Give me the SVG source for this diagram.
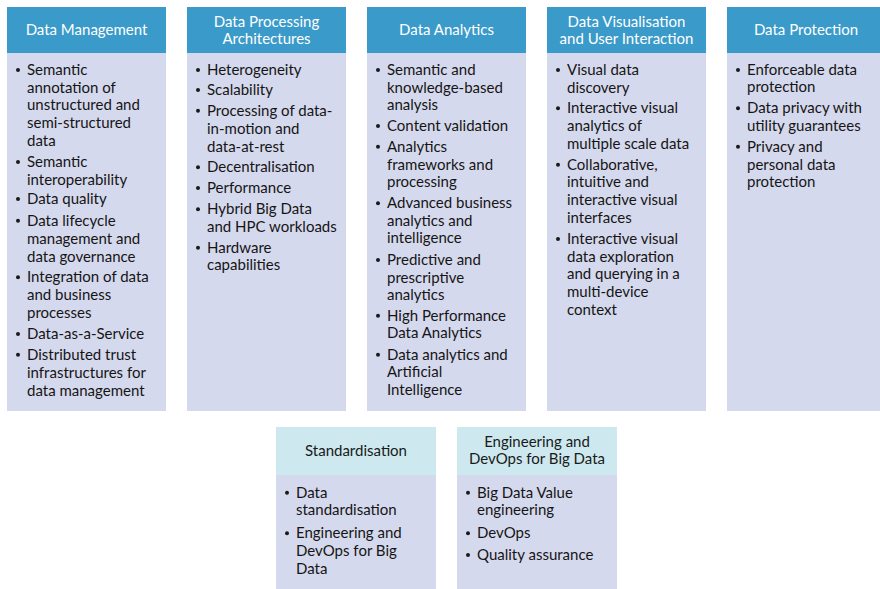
<svg xmlns="http://www.w3.org/2000/svg" width="880" height="589" viewBox="0 0 880 589">
<style>
.hd{fill:#3a9ac9}
.hd2{fill:#cde9ef}
.bd{fill:#d5d9ed}
.ht{font-family:Lato,"Open Sans",sans-serif;font-size:15px;fill:#ffffff;text-anchor:middle}
.ht2{font-family:Lato,"Open Sans",sans-serif;font-size:15px;fill:#1a1a1a;text-anchor:middle}
.t{font-family:Lato,"Open Sans",sans-serif;font-size:15px;fill:#151515}
.b{fill:#1a1a1a}
</style>
<rect width="880" height="589" fill="#ffffff"/>
<g id="connectors"></g>

<g id="data-management">
<rect class="hd" x="7" y="7" width="159" height="46"/>
<rect class="bd" x="7" y="53" width="159" height="358"/>
<text class="ht" x="86.5" y="35">Data Management</text>
<circle class="b" cx="18" cy="70" r="2"/><circle class="b" cx="18" cy="162" r="2"/><circle class="b" cx="18" cy="199" r="2"/><circle class="b" cx="18" cy="220.7" r="2"/><circle class="b" cx="18" cy="277.3" r="2"/><circle class="b" cx="18" cy="334" r="2"/><circle class="b" cx="18" cy="354.7" r="2"/>
<text class="t"><tspan x="27" y="75">Semantic</tspan><tspan x="27" y="92.5">annotation of</tspan><tspan x="27" y="110">unstructured and</tspan><tspan x="27" y="128">semi-structured</tspan><tspan x="27" y="146">data</tspan><tspan x="27" y="167">Semantic</tspan><tspan x="27" y="184.5">interoperability</tspan><tspan x="27" y="204">Data quality</tspan><tspan x="27" y="225.7">Data lifecycle</tspan><tspan x="27" y="243.7">management and</tspan><tspan x="27" y="261.7">data governance</tspan><tspan x="27" y="282.3">Integration of data</tspan><tspan x="27" y="300">and business</tspan><tspan x="27" y="317.7">processes</tspan><tspan x="27" y="339">Data-as-a-Service</tspan><tspan x="27" y="359.7">Distributed trust</tspan><tspan x="27" y="377.7">infrastructures for</tspan><tspan x="27" y="395.7">data management</tspan></text>
</g>

<g id="data-processing">
<rect class="hd" x="187" y="7" width="159" height="46"/>
<rect class="bd" x="187" y="53" width="159" height="358"/>
<text class="ht"><tspan x="266.5" y="27">Data Processing</tspan><tspan x="266.5" y="44">Architectures</tspan></text>
<circle class="b" cx="198" cy="70" r="2"/><circle class="b" cx="198" cy="90" r="2"/><circle class="b" cx="198" cy="110.7" r="2"/><circle class="b" cx="198" cy="167.3" r="2"/><circle class="b" cx="198" cy="188" r="2"/><circle class="b" cx="198" cy="209.3" r="2"/><circle class="b" cx="198" cy="247.7" r="2"/>
<text class="t"><tspan x="207" y="75">Heterogeneity</tspan><tspan x="207" y="95">Scalability</tspan><tspan x="207" y="115.7">Processing of data-</tspan><tspan x="207" y="134">in-motion and</tspan><tspan x="207" y="151.7">data-at-rest</tspan><tspan x="207" y="172.3">Decentralisation</tspan><tspan x="207" y="193">Performance</tspan><tspan x="207" y="214.3">Hybrid Big Data</tspan><tspan x="207" y="232">and HPC workloads</tspan><tspan x="207" y="252.7">Hardware</tspan><tspan x="207" y="270">capabilities</tspan></text>
</g>

<g id="data-analytics">
<rect class="hd" x="367" y="7" width="159" height="46"/>
<rect class="bd" x="367" y="53" width="159" height="358"/>
<text class="ht" x="446.5" y="35">Data Analytics</text>
<circle class="b" cx="378" cy="70" r="2"/><circle class="b" cx="378" cy="126" r="2"/><circle class="b" cx="378" cy="146.7" r="2"/><circle class="b" cx="378" cy="203.3" r="2"/><circle class="b" cx="378" cy="260" r="2"/><circle class="b" cx="378" cy="315.7" r="2"/><circle class="b" cx="378" cy="354.7" r="2"/>
<text class="t"><tspan x="387" y="75">Semantic and</tspan><tspan x="387" y="92.5">knowledge-based</tspan><tspan x="387" y="110">analysis</tspan><tspan x="387" y="131">Content validation</tspan><tspan x="387" y="151.7">Analytics</tspan><tspan x="387" y="169.7">frameworks and</tspan><tspan x="387" y="187.3">processing</tspan><tspan x="387" y="208.3">Advanced business</tspan><tspan x="387" y="225.7">analytics and</tspan><tspan x="387" y="243.3">intelligence</tspan><tspan x="387" y="265">Predictive and</tspan><tspan x="387" y="282.7">prescriptive</tspan><tspan x="387" y="300.3">analytics</tspan><tspan x="387" y="320.7">High Performance</tspan><tspan x="387" y="338.3">Data Analytics</tspan><tspan x="387" y="359.7">Data analytics and</tspan><tspan x="387" y="377.3">Artificial</tspan><tspan x="387" y="395.3">Intelligence</tspan></text>
</g>

<g id="data-visualisation">
<rect class="hd" x="547" y="7" width="159" height="46"/>
<rect class="bd" x="547" y="53" width="159" height="358"/>
<text class="ht"><tspan x="626.5" y="27">Data Visualisation</tspan><tspan x="626.5" y="44">and User Interaction</tspan></text>
<circle class="b" cx="558" cy="70" r="2"/><circle class="b" cx="558" cy="108.3" r="2"/><circle class="b" cx="558" cy="164.7" r="2"/><circle class="b" cx="558" cy="239" r="2"/>
<text class="t"><tspan x="567" y="75">Visual data</tspan><tspan x="567" y="92.5">discovery</tspan><tspan x="567" y="113.3">Interactive visual</tspan><tspan x="567" y="131">analytics of</tspan><tspan x="567" y="148.7">multiple scale data</tspan><tspan x="567" y="169.7">Collaborative,</tspan><tspan x="567" y="187.3">intuitive and</tspan><tspan x="567" y="205">interactive visual</tspan><tspan x="567" y="222.7">interfaces</tspan><tspan x="567" y="244">Interactive visual</tspan><tspan x="567" y="261.7">data exploration</tspan><tspan x="567" y="279.3">and querying in a</tspan><tspan x="567" y="297">multi-device</tspan><tspan x="567" y="314.7">context</tspan></text>
</g>

<g id="data-protection">
<rect class="hd" x="727" y="7" width="159" height="46"/>
<rect class="bd" x="727" y="53" width="159" height="358"/>
<text class="ht" x="806" y="35">Data Protection</text>
<circle class="b" cx="738" cy="70" r="2"/><circle class="b" cx="738" cy="108.3" r="2"/><circle class="b" cx="738" cy="146.7" r="2"/>
<text class="t"><tspan x="747" y="75">Enforceable data</tspan><tspan x="747" y="92.3">protection</tspan><tspan x="747" y="113.3">Data privacy with</tspan><tspan x="747" y="131">utility guarantees</tspan><tspan x="747" y="151.7">Privacy and</tspan><tspan x="747" y="169.7">personal data</tspan><tspan x="747" y="187.3">protection</tspan></text>
</g>

<g id="standardisation">
<rect class="hd2" x="276" y="427" width="160" height="48"/>
<rect class="bd" x="276" y="475" width="160" height="114"/>
<text class="ht2" x="356" y="456">Standardisation</text>
<circle class="b" cx="287" cy="492.7" r="2"/><circle class="b" cx="287" cy="533.3" r="2"/>
<text class="t"><tspan x="296" y="497.7">Data</tspan><tspan x="296" y="515.3">standardisation</tspan><tspan x="296" y="538.3">Engineering and</tspan><tspan x="296" y="556">DevOps for Big</tspan><tspan x="296" y="573.7">Data</tspan></text>
</g>

<g id="engineering-devops">
<rect class="hd2" x="457" y="427" width="160" height="48"/>
<rect class="bd" x="457" y="475" width="160" height="114"/>
<text class="ht2"><tspan x="537" y="446.7">Engineering and</tspan><tspan x="537" y="464.3">DevOps for Big Data</tspan></text>
<circle class="b" cx="468" cy="492.7" r="2"/><circle class="b" cx="468" cy="533.3" r="2"/><circle class="b" cx="468" cy="555" r="2"/>
<text class="t"><tspan x="477" y="497.7">Big Data Value</tspan><tspan x="477" y="515.3">engineering</tspan><tspan x="477" y="538.3">DevOps</tspan><tspan x="477" y="560">Quality assurance</tspan></text>
</g>
</svg>
